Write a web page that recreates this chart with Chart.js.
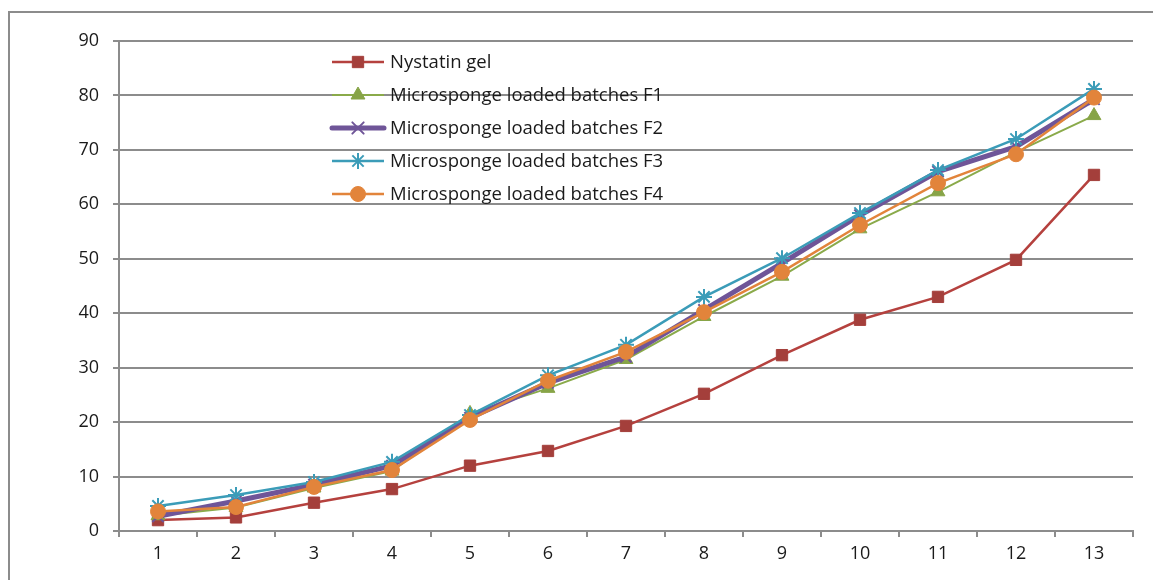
<!DOCTYPE html>
<html>
<head>
<meta charset="utf-8">
<script src="https://cdn.jsdelivr.net/npm/chart.js@4/dist/chart.umd.min.js"></script>
<style>
  body { margin: 0; background: #fff; }
  #wrap { position: relative; width: 1153px; height: 580px; overflow: hidden; }
  #frame { position: absolute; left: 8px; top: 11px; width: 1200px; height: 620px;
           border-left: 2px solid #8c8c8c; border-top: 2px solid #8c8c8c; }
  canvas { position: absolute; left: 0; top: 0; }
</style>
</head>
<body>
<div id="wrap">
  <div id="frame"></div>
  <canvas id="chart" width="1153" height="580"></canvas>
</div>
<script>
// Release data, sampling points 1..13
const points = ['1','2','3','4','5','6','7','8','9','10','11','12','13'];
const nystatinGel = [2.0, 2.5, 5.2, 7.7, 12.0, 14.7, 19.3, 25.2, 32.3, 38.8, 43.0, 49.8, 65.4];
const batchF1 = [2.8, 4.3, 7.9, 11.0, 21.6, 26.2, 31.5, 39.4, 46.8, 55.5, 62.3, 69.6, 76.3];
const batchF2 = [2.7, 5.5, 8.5, 12.0, 20.8, 27.2, 32.0, 40.6, 49.2, 58.0, 66.0, 70.6, 79.3];
const batchF3 = [4.6, 6.6, 9.0, 12.7, 21.3, 28.6, 34.2, 43.0, 50.1, 58.4, 66.3, 72.0, 81.2];
const batchF4 = [3.6, 4.4, 8.1, 11.2, 20.4, 27.6, 32.9, 40.2, 47.6, 56.2, 63.9, 69.2, 79.6];
const yTicks = [0, 10, 20, 30, 40, 50, 60, 70, 80, 90];

const FONT = "'Open Sans', 'DejaVu Sans', sans-serif";
const GRID = '#8c8c8c';

function series(label, data, color, markerColor, style, radius, width, order) {
  return {
    label, data, order,
    borderColor: color, borderWidth: width,
    pointStyle: style, pointRadius: radius, pointHoverRadius: radius,
    pointBackgroundColor: markerColor, pointBorderColor: markerColor,
    pointBorderWidth: (style === 'crossRot' || style === 'star') ? 2 : 1,
    tension: 0, fill: false
  };
}

// legend drawn inside the plot, Excel style
const innerLegend = {
  id: 'innerLegend',
  afterDraw(chart) {
    const ctx = chart.ctx;
    ctx.save();
    chart.data.datasets.forEach((ds, i) => {
      const y = 62 + i * 33;
      ctx.strokeStyle = ds.borderColor;
      ctx.lineWidth = ds.borderWidth;
      ctx.lineCap = ds.borderWidth > 3 ? 'round' : 'butt';
      ctx.beginPath();
      ctx.moveTo(332, y); ctx.lineTo(384, y);
      ctx.stroke();
      ctx.fillStyle = ds.pointBackgroundColor;
      ctx.strokeStyle = ds.pointBorderColor;
      ctx.lineWidth = ds.pointBorderWidth;
      Chart.helpers.drawPoint(ctx, { pointStyle: ds.pointStyle, radius: ds.pointRadius, borderWidth: ds.pointBorderWidth, rotation: 0 }, 358, y);
      ctx.fillStyle = '#1a1a1a';
      ctx.font = '18.5px ' + FONT;
      ctx.textBaseline = 'middle';
      ctx.textAlign = 'left';
      ctx.fillText(ds.label, 390, y + 1);
    });
    ctx.restore();
  }
};

new Chart(document.getElementById('chart').getContext('2d'), {
  type: 'line',
  data: {
    labels: points,
    datasets: [
      series('Nystatin gel', nystatinGel, '#b5413e', '#a43f3b', 'rect', 8, 2.5, 5),
      series('Microsponge loaded batches F1', batchF1, '#8aaa4a', '#87a447', 'triangle', 8, 2, 4),
      series('Microsponge loaded batches F2', batchF2, '#6f5598', '#6f5598', 'crossRot', 8, 5, 3),
      series('Microsponge loaded batches F3', batchF3, '#3b9cb8', '#3b9cb8', 'star', 8, 2.5, 2),
      series('Microsponge loaded batches F4', batchF4, '#e2843b', '#e2843b', 'circle', 7.5, 2.5, 1)
    ]
  },
  options: {
    responsive: false,
    animation: false,
    layout: { padding: { top: 41, right: 20, left: 0, bottom: 0 } },
    plugins: { legend: { display: false }, tooltip: { enabled: false } },
    scales: {
      x: {
        offset: true,
        grid: { offset: true, drawOnChartArea: false, drawTicks: true, tickLength: 6, color: GRID, lineWidth: 2 },
        border: { color: GRID, width: 2 },
        ticks: { color: '#1a1a1a', font: { family: FONT, size: 18 }, padding: 6, maxRotation: 0 },
        afterFit(scale) { scale.height = 49; }
      },
      y: {
        min: 0, max: 90,
        afterBuildTicks(scale) { scale.ticks = yTicks.map(v => ({ value: v })); },
        grid: { color: GRID, lineWidth: 2, tickLength: 6 },
        border: { color: GRID, width: 2 },
        ticks: { color: '#1a1a1a', font: { family: FONT, size: 18 }, padding: 14 },
        afterFit(scale) { scale.width = 119; }
      }
    }
  },
  plugins: [innerLegend]
});
</script>
</body>
</html>
